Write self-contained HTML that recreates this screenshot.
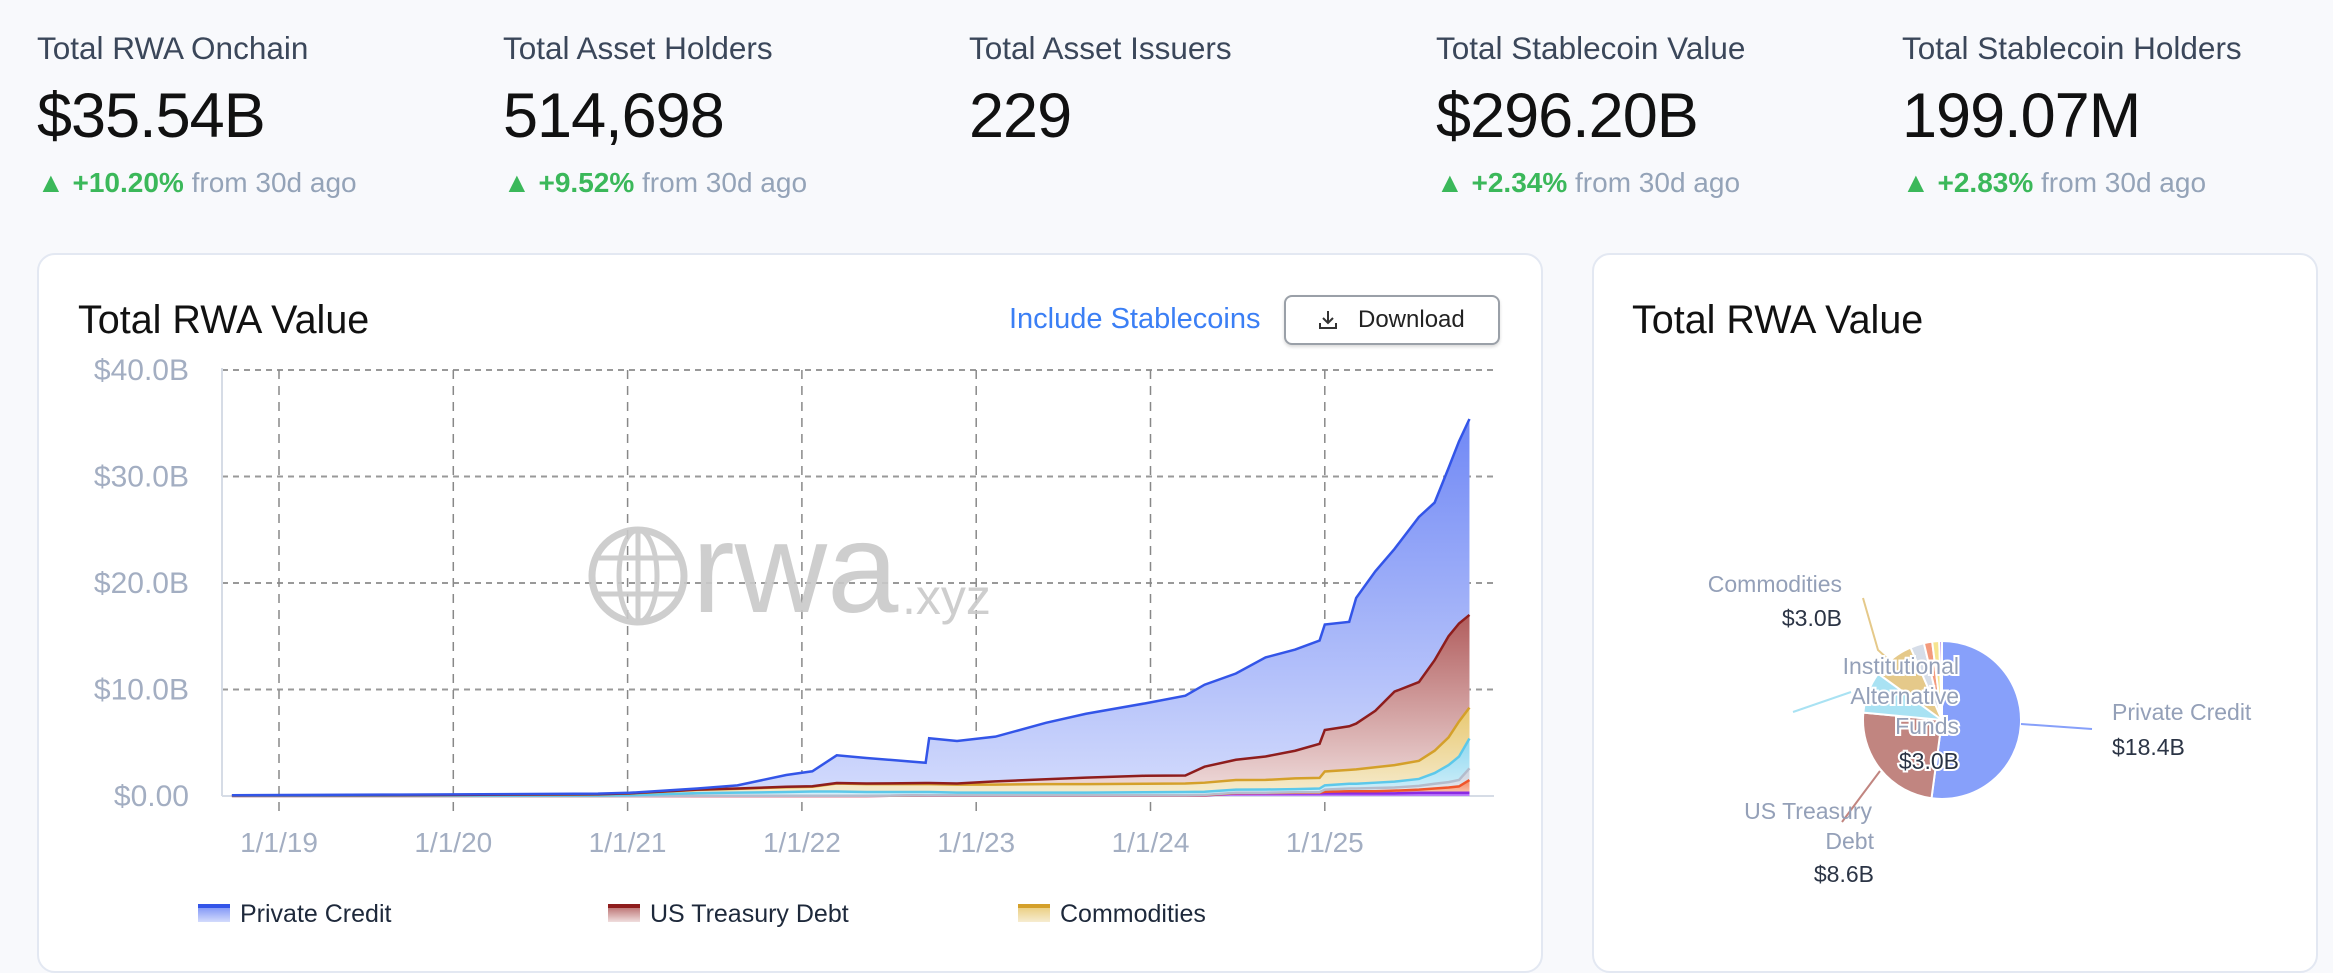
<!DOCTYPE html>
<html><head><meta charset="utf-8">
<style>
*{box-sizing:border-box;margin:0;padding:0}
body{width:2333px;height:941px;overflow:hidden;background:#f8f9fc;font-family:"Liberation Sans",sans-serif;position:relative}
.stat{position:absolute;top:30px}
.stat .lbl{font-size:31.5px;color:#3b475a;line-height:36px}
.stat .val{font-size:63px;color:#111;margin-top:17px;line-height:66px;letter-spacing:-1px}
.stat .chg{font-size:28px;color:#94a3b8;margin-top:18px;line-height:32px}
.stat .chg b{color:#3bb85a;font-weight:bold}
.card{position:absolute;top:253px;background:#fff;border:2px solid #e3e8f2;border-radius:18px;height:720px}
.ttl{position:absolute;font-size:39.5px;color:#111;line-height:44px}
</style></head><body>
<div class="stat" style="left:37px"><div class="lbl">Total RWA Onchain</div><div class="val">$35.54B</div><div class="chg"><b>▲ +10.20%</b> from 30d ago</div></div>
<div class="stat" style="left:503px"><div class="lbl">Total Asset Holders</div><div class="val">514,698</div><div class="chg"><b>▲ +9.52%</b> from 30d ago</div></div>
<div class="stat" style="left:969px"><div class="lbl">Total Asset Issuers</div><div class="val">229</div></div>
<div class="stat" style="left:1436px"><div class="lbl">Total Stablecoin Value</div><div class="val">$296.20B</div><div class="chg"><b>▲ +2.34%</b> from 30d ago</div></div>
<div class="stat" style="left:1902px"><div class="lbl">Total Stablecoin Holders</div><div class="val">199.07M</div><div class="chg"><b>▲ +2.83%</b> from 30d ago</div></div>

<div class="card" style="left:37px;width:1506px"></div>
<div class="ttl" style="left:78px;top:298px">Total RWA Value</div>
<div style="position:absolute;left:1009px;top:303px;font-size:29px;color:#3b7ff5">Include Stablecoins</div>
<div style="position:absolute;left:1284px;top:295px;width:216px;height:50px;border:2px solid #9aa0a8;border-radius:8px;background:#fff;box-shadow:0 2px 3px rgba(0,0,0,.15);font-size:24px;color:#222;line-height:46px;padding-left:72px">Download
<svg style="position:absolute;left:30px;top:11px" width="24" height="24" viewBox="0 0 24 24" fill="none" stroke="#333" stroke-width="2"><path d="M12 3v12M7 10l5 5 5-5M4 15v5h16v-5"/></svg></div>

<svg id="area" style="position:absolute;left:0;top:0" width="1560" height="941"></svg>

<div class="card" style="left:1592px;width:726px"></div>
<div class="ttl" style="left:1632px;top:298px">Total RWA Value</div>
<svg id="pie" style="position:absolute;left:0;top:0" width="2333" height="941"></svg>

<script>
const dates=[2018.73,2019.69,2020.83,2021.01,2021.40,2021.63,2021.91,2022.06,2022.20,2022.37,2022.71,2022.73,2022.89,2023.11,2023.40,2023.63,2023.97,2024.20,2024.31,2024.49,2024.66,2024.83,2024.97,2025.00,2025.14,2025.18,2025.29,2025.40,2025.54,2025.63,2025.71,2025.77,2025.83];
const purple=[0,0,0,0,0,0,0,0,0,0,0.05,0.05,0.05,0.05,0.05,0.05,0.05,0.05,0.05,0.25,0.25,0.25,0.25,0.25,0.25,0.25,0.25,0.25,0.3,0.3,0.3,0.3,0.3];
const orange=[0,0,0,0,0,0,0,0,0,0,0,0,0,0,0,0,0,0,0.02,0.02,0.03,0.05,0.05,0.15,0.2,0.2,0.2,0.25,0.3,0.4,0.5,0.6,1.2];
const gray=[0,0,0,0,0.02,0.02,0.02,0.02,0.02,0.02,0.02,0.02,0.02,0.02,0.02,0.02,0.02,0.02,0.03,0.03,0.03,0.05,0.05,0.2,0.25,0.25,0.3,0.3,0.35,0.45,0.5,0.6,1.1];
const altFunds=[0.02,0.03,0.05,0.08,0.25,0.3,0.35,0.4,0.4,0.35,0.3,0.3,0.25,0.25,0.25,0.25,0.28,0.3,0.3,0.3,0.3,0.3,0.35,0.4,0.45,0.45,0.5,0.55,0.65,1.0,1.6,2.2,2.8];
const commodities=[0.03,0.05,0.1,0.15,0.3,0.35,0.45,0.45,0.75,0.75,0.75,0.75,0.75,0.75,0.8,0.8,0.8,0.8,0.85,0.9,0.9,1.0,1.0,1.3,1.3,1.35,1.45,1.55,1.7,2.1,2.6,3.3,2.9];
const treasury=[0,0,0.02,0.02,0.03,0.03,0.05,0.05,0.05,0.05,0.1,0.1,0.1,0.3,0.45,0.6,0.75,0.75,1.5,1.9,2.2,2.6,3.2,3.9,4.1,4.3,5.3,6.9,7.4,8.5,9.5,9.2,8.7];
const privateCredit=[0.02,0.05,0.05,0.05,0.1,0.3,1.1,1.4,2.6,2.4,1.9,4.2,4.0,4.2,5.3,6.0,6.8,7.5,7.7,8.1,9.3,9.5,9.7,9.9,9.8,11.8,13.1,13.4,15.5,14.8,15.8,17.1,18.4];
const yTicks=[0,10,20,30,40];
const yTickLabels=["$0.00","$10.0B","$20.0B","$30.0B","$40.0B"];
const xTicks=[2019,2020,2021,2022,2023,2024,2025];
const xTickLabels=["1/1/19","1/1/20","1/1/21","1/1/22","1/1/23","1/1/24","1/1/25"];

const NS="http://www.w3.org/2000/svg";
const X=t=>279+(t-2019)*174.3;
const Y=v=>796-v*10.65;
const svg=document.getElementById('area');
function mk(tag,attrs,parent){const e=document.createElementNS(NS,tag);for(const k in attrs)e.setAttribute(k,attrs[k]);(parent||svg).appendChild(e);return e;}
const defs=mk('defs',{});
yTicks.forEach((v,i)=>{
  const l=mk('line',{x1:222,x2:1494,y1:Y(v),y2:Y(v),stroke:i===0?'#d6dce6':'#999','stroke-dasharray':i===0?'':'6 5','stroke-width':2});
  
  
  const t=mk('text',{x:189,y:Y(v)+10,'text-anchor':'end','font-size':30,fill:'#a3aec2'});
  t.textContent=yTickLabels[i];
  
  
});
mk('line',{x1:222,x2:222,y1:368,y2:796,stroke:'#d6dce6','stroke-width':2});
xTicks.forEach((d,i)=>{
  const l=mk('line',{x1:X(d),x2:X(d),y1:370,y2:815,stroke:'#888','stroke-dasharray':'9 7','stroke-width':1.5});
  
  
  const t=mk('text',{x:X(d),y:852,'text-anchor':'middle','font-size':28,fill:'#a3aec2'});
  t.textContent=xTickLabels[i];
  
  
});
const wm=mk('g',{opacity:0.9});


mk('circle',{cx:638,cy:576,r:46,fill:'none',stroke:'#c9c9c9','stroke-width':7},wm);
mk('ellipse',{cx:638,cy:576,rx:19,ry:46,fill:'none',stroke:'#c9c9c9','stroke-width':5},wm);
mk('line',{x1:593,x2:683,y1:558,y2:558,stroke:'#c9c9c9','stroke-width':5},wm);
mk('line',{x1:593,x2:683,y1:594,y2:594,stroke:'#c9c9c9','stroke-width':5},wm);
mk('line',{x1:638,x2:638,y1:530,y2:622,stroke:'#c9c9c9','stroke-width':5},wm);
const wt=mk('text',{x:692,y:612,'font-size':128,fill:'#c9c9c9'},wm);wt.textContent='rwa';
const wt2=mk('text',{x:902,y:614,'font-size':50,fill:'#c9c9c9'},wm);wt2.textContent='.xyz';

const series=[
 {name:'purple',vals:purple,line:'#8a2be2',top:'#a855f7',bot:'#c084fc'},
 {name:'orange',vals:orange,line:'#f0552a',top:'#f58a60',bot:'#fbd0c0'},
 {name:'gray',vals:gray,line:'#b4bccc',top:'#cdd3de',bot:'#e8ebf1'},
 {name:'alt-funds',vals:altFunds,line:'#5cc8ea',top:'#8fd8f0',bot:'#d5f0fa'},
 {name:'commodities',vals:commodities,line:'#d4a02a',top:'#e8c870',bot:'#f6ecd0'},
 {name:'treasury',vals:treasury,line:'#8e1d1d',top:'#b15d5d',bot:'#f0dede'},
 {name:'private-credit',vals:privateCredit,line:'#3355e8',top:'#7088f5',bot:'#d3dbfc'}
];
let base=dates.map(()=>0);
const layers=[];
series.forEach(s=>{
  const topv=base.map((b,i)=>b+s.vals[i]);
  layers.push({s,base:base.slice(),topv});
  base=topv;
});
layers.reverse().forEach(({s,base,topv})=>{
  const g=mk('linearGradient',{id:'g-'+s.name,x1:0,y1:0,x2:0,y2:1},defs);
  mk('stop',{offset:0,'stop-color':s.top},g);mk('stop',{offset:1,'stop-color':s.bot},g);
  let d='M'+dates.map((t,i)=>X(t)+','+Y(topv[i])).join('L');
  for(let i=dates.length-1;i>=0;i--)d+='L'+X(dates[i])+','+Y(0);
  const a=mk('path',{d:d+'Z',fill:'url(#g-'+s.name+')'});
  
  
});
layers.reverse().forEach(({s,topv})=>{
  const l=mk('path',{d:'M'+dates.map((t,i)=>X(t)+','+Y(topv[i])).join('L'),fill:'none',stroke:s.line,'stroke-width':2.5});
  
  
});
const legend=[['Private Credit',198,'private-credit'],['US Treasury Debt',608,'treasury'],['Commodities',1018,'commodities']];
legend.forEach(([txt,x,key])=>{
  const s=series.find(q=>q.name===key);
  const g=mk('g',{});
  
  
  mk('rect',{x:x,y:904,width:32,height:18,fill:'url(#g-'+key+')'},g);
  mk('rect',{x:x,y:904,width:32,height:4,fill:s.line},g);
  const t=mk('text',{x:x+42,y:922,'font-size':25,fill:'#1e293b'},g);t.textContent=txt;
});

const pieLabels=["Private Credit","US Treasury Debt","Institutional Alternative Funds","Commodities","Non-US Government Debt","Corporate Bonds","Stocks","Other"];
const pieValues=[18.4,8.6,3.0,3.0,1.0,0.6,0.5,0.2];
const pieColors=['#87a0fa','#c18580','#a9e2f3','#e5c98a','#d6dde8','#f39a7c','#f6e48f','#b18be8'];
const P=document.getElementById('pie');
const cx=1942,cy=720,R=79;
const total=pieValues.reduce((a,b)=>a+b,0);
let ang=0;
pieValues.forEach((v,i)=>{
  const a0=ang,a1=ang+v/total*2*Math.PI;ang=a1;
  const p=(a)=>[cx+R*Math.sin(a),cy-R*Math.cos(a)];
  const [x0,y0]=p(a0),[x1,y1]=p(a1);
  const e=mk('path',{d:`M${cx},${cy}L${x0},${y0}A${R},${R} 0 ${a1-a0>Math.PI?1:0} 1 ${x1},${y1}Z`,fill:pieColors[i],stroke:'#fff','stroke-width':2},P);
  
  
});
function lead(pts,col){const l=mk('polyline',{points:pts,fill:'none',stroke:col,'stroke-width':2},P);}
lead('2021,724 2092,729','#87a0fa');
lead('1880,771 1862,795 1842,822','#c18580');
lead('1851,692 1793,712','#a9e2f3');
lead('1889,660 1878,650 1863,598','#e5c98a');
function lbl(x,y,txt,col,anchor,halo){const t=mk('text',{x,y,'font-size':23,fill:col,'text-anchor':anchor||'start'},P);if(halo){t.setAttribute('stroke','#fff');t.setAttribute('stroke-width',4);t.setAttribute('paint-order','stroke');}t.textContent=txt;}
lbl(2112,720,'Private Credit','#94a0b8');lbl(2112,755,'$18.4B','#2b3445');
lbl(1842,592,'Commodities','#94a0b8','end');lbl(1842,626,'$3.0B','#2b3445','end');
lbl(1872,819,'US Treasury','#94a0b8','end');lbl(1874,849,'Debt','#94a0b8','end');lbl(1874,882,'$8.6B','#2b3445','end');
lbl(1959,674,'Institutional','#94a0b8','end',1);lbl(1959,704,'Alternative','#94a0b8','end',1);lbl(1959,734,'Funds','#94a0b8','end',1);lbl(1959,769,'$3.0B','#2b3445','end',1);
</script>
</body></html>
